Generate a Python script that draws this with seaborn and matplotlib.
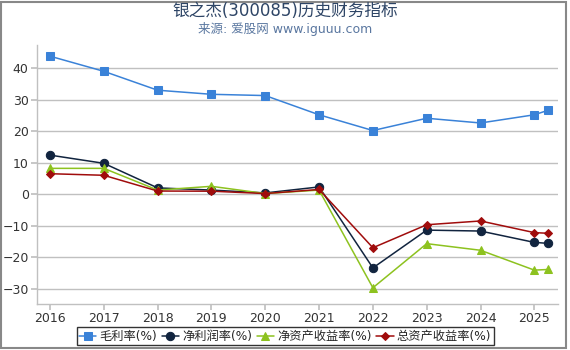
import matplotlib
matplotlib.use("Agg")
import matplotlib.pyplot as plt
import seaborn as sns
import pandas as pd

years = [2016, 2017, 2018, 2019, 2020, 2021, 2022, 2023, 2024, 2025, 2025.25]
year_ticks = [2016, 2017, 2018, 2019, 2020, 2021, 2022, 2023, 2024, 2025]
gross_margin = [43.8, 39.0, 33.0, 31.7, 31.3, 25.2, 20.2, 24.1, 22.6, 25.2, 26.6]
net_margin = [12.4, 9.8, 2.0, 1.3, 0.4, 2.3, -23.4, -11.4, -11.7, -15.3, -15.6]
roe = [8.2, 8.2, 1.3, 2.5, 0.2, 1.3, -29.7, -15.7, -17.8, -24.1, -23.9]
roa = [6.5, 6.0, 1.0, 0.95, 0.2, 1.5, -17.0, -9.7, -8.5, -12.2, -12.4]
names = ["毛利率(%)", "净利润率(%)", "净资产收益率(%)", "总资产收益率(%)"]
colors = ["#3a82d8", "#11243f", "#8dc21f", "#a00c0c"]
markers = ["s", "o", "^", "D"]
msizes = [6, 6, 6, 4.5]

sns.set_theme(style="white")
plt.rcParams['font.family'] = ['DejaVu Sans', 'Noto Sans CJK SC']

fig = plt.figure(figsize=(5.7, 3.5), dpi=100)
ax = fig.add_axes([0.065, 0.131, 0.914, 0.74])

series = [gross_margin, net_margin, roe, roa]
for vals, name, c, m, ms in zip(series, names, colors, markers, msizes):
    df = pd.DataFrame({"year": years, "value": vals})
    sns.lineplot(data=df, x="year", y="value", ax=ax, color=c, marker=m,
                 markersize=ms, markeredgecolor=c, linewidth=1.1, label=name)

ax.set_xlim(2015.76, 2025.44)
ax.set_ylim(-34.9, 47.3)
ax.set_xticks(year_ticks)
ax.set_xticklabels([str(y) for y in year_ticks])
ax.set_yticks([-30, -20, -10, 0, 10, 20, 30, 40])
ax.yaxis.grid(True, color="#c0c0c0", linewidth=1)
ax.xaxis.grid(False)
ax.set_xlabel("")
ax.set_ylabel("")
for s in ["top", "right"]:
    ax.spines[s].set_visible(False)
for s in ["left", "bottom"]:
    ax.spines[s].set_color("#c0c0c0")
    ax.spines[s].set_linewidth(1)
ax.tick_params(axis="both", labelsize=9, colors="#333333", length=4, pad=2,
               direction="out", color="#c0c0c0", left=True, bottom=True)

leg = ax.legend(loc="upper center", bbox_to_anchor=(0.476, -0.09), ncol=4, fontsize=8.8,
                frameon=True, fancybox=False, edgecolor="#000000", handlelength=1.4,
                handletextpad=0.25, columnspacing=0.4, borderpad=0.2, borderaxespad=0)
leg.get_frame().set_linewidth(1)

fig.text(0.5, 0.968, "银之杰(300085)历史财务指标", ha="center", va="center",
         fontsize=12, color="#2e4566")
fig.text(0.5, 0.918, "来源: 爱股网 www.iguuu.com", ha="center", va="center",
         fontsize=9, color="#5a77a0")

border = plt.Rectangle((0.0015, 0.005), 0.991, 0.99, transform=fig.transFigure,
                       fill=False, edgecolor="#888888", linewidth=1.5)
fig.patches.append(border)

fig.savefig("out.png", dpi=100)
